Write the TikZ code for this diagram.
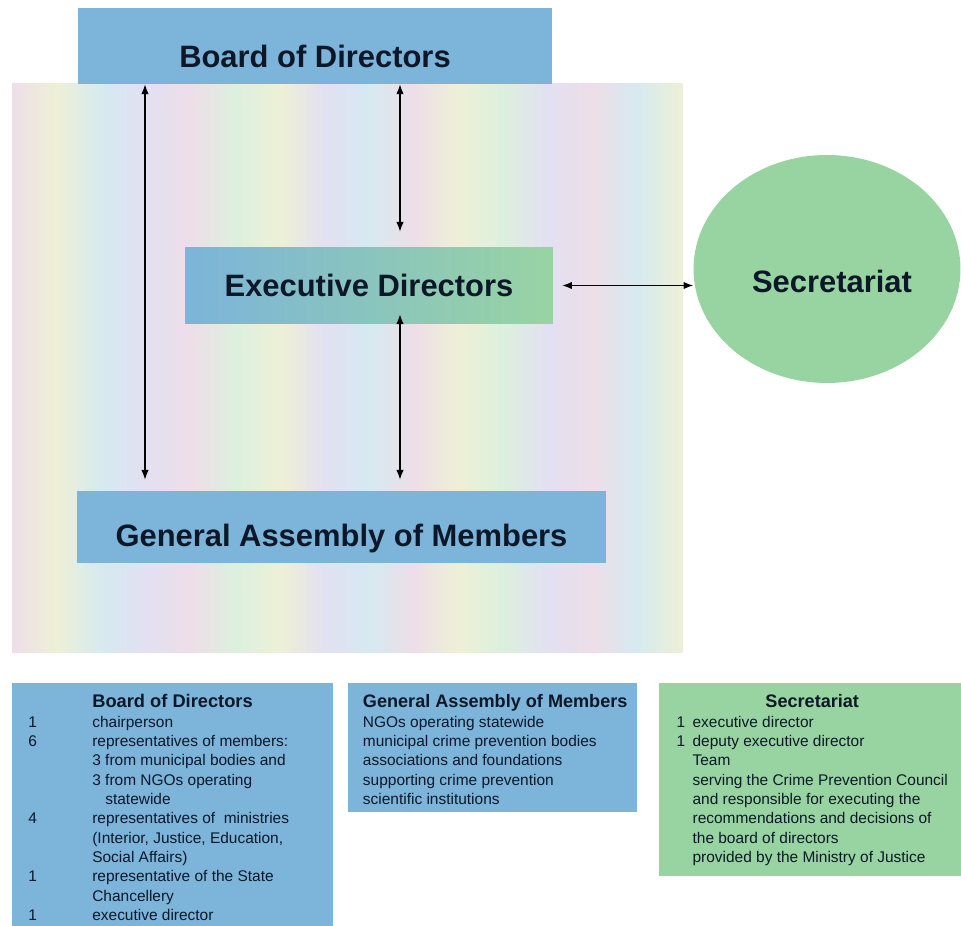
\documentclass[tikz,border=0pt]{standalone}
\usepackage{fontspec}
\setmainfont{Liberation Sans}
\usetikzlibrary{positioning, arrows.meta, shapes.geometric}
\definecolor{bluebox}{RGB}{124,180,218}
\definecolor{greenbox}{RGB}{152,212,162}
\definecolor{inktext}{RGB}{12,24,40}
\definecolor{pk}{RGB}{238,222,232}
\definecolor{yl}{RGB}{238,240,214}
\definecolor{cy}{RGB}{214,234,240}
\definecolor{lv}{RGB}{226,224,242}
\definecolor{gn}{RGB}{220,240,222}
\tikzset{>=latex}

\begin{document}
\begin{tikzpicture}[x=0.02cm, y=-0.02cm, X/.tip={Latex[length=5.5pt,width=4.2pt]},
    every node/.append style={text=inktext, inner sep=0pt},
    unit/.style={fill=bluebox, font=\fontsize{17.6}{20}\selectfont\bfseries},
    lowtext/.style={text height=#1, text depth=0pt},
    infobox/.style={fill=#1, anchor=north west},
    listtext/.style={anchor=north west, font=\fontsize{8.8}{11}\selectfont},
    link/.style={X-X, line width=0.7pt}]
    \useasboundingbox (0,0) rectangle (961,926);
    % pastel panel behind the chart
    \foreach \ca/\cb [count=\i from 0] in {pk/yl,yl/cy,cy/lv,lv/pk,pk/gn,gn/yl,yl/lv,lv/cy,cy/pk,pk/yl,yl/gn,gn/lv,lv/pk,pk/cy,cy/yl}
        \shade[left color=\ca, right color=\cb] (12+\i*44.67,84) rectangle (12.6+\i*44.67+44.67,652);
    \node[unit, lowtext=25pt, minimum width=9.48cm, minimum height=1.52cm] (board) at (315,46) {Board of Directors};
    \node[unit, left color=bluebox, right color=greenbox, minimum width=7.36cm, minimum height=1.54cm] (exec) at (369,285.5) {Executive Directors};
    \node[unit, lowtext=22.5pt, minimum width=10.58cm, minimum height=1.44cm] (ga) at (341.5,527) {General Assembly of Members};
    \node[ellipse, fill=greenbox, minimum width=5.34cm, minimum height=4.56cm] (sec) at (827,269) {};
    \node[font=\fontsize{17.6}{20}\selectfont\bfseries] (sectitle) at (832,281) {Secretariat};
    \coordinate (lft) at (145,0);
    \coordinate (mid) at (400,0);
    \draw[link, shorten >=0.22cm] (board.south -| lft) -- (ga.north -| lft);
    \draw[link, shorten >=0.3cm] (board.south -| mid) -- (exec.north -| mid);
    \draw[link, shorten <=-0.2cm, shorten >=0.22cm] (exec.south -| mid) -- (ga.north -| mid);
    \draw[link, shorten <=0.18cm] (exec.east) -- (exec.east -| sec.west);
    % legend boxes
    \node[infobox=bluebox, minimum width=6.42cm, minimum height=4.86cm] (boardbox) at (12,683) {};
    \node[infobox=bluebox, minimum width=5.78cm, minimum height=2.58cm, below right=0cm and 0.28cm of boardbox.north east] (gabox) {};
    \node[infobox=greenbox, minimum width=6.08cm, minimum height=3.86cm, below right=0cm and 0.42cm of gabox.north east] (secbox) {};
    \node[listtext] (boardlist) at ([xshift=0.32cm, yshift=-0.22cm]boardbox.north west) {%
        \begin{tabular}{@{}p{1.28cm}@{}l@{}}
        & {\fontsize{10.4}{12}\selectfont\bfseries Board of Directors}\\
        1 & chairperson\\
        6 & representatives of members:\\
          & 3 from municipal bodies and\\
          & 3 from NGOs operating\\
          & \hspace{0.26cm}statewide\\
        4 & representatives of\ \ ministries\\
          & (Interior, Justice, Education,\\
          & Social Affairs)\\
        1 & representative of the State\\
          & Chancellery\\
        1 & executive director
        \end{tabular}};
    \node[listtext] (galist) at ([xshift=0.3cm, yshift=-0.22cm]gabox.north west) {%
        \begin{tabular}{@{}l@{}}
        {\fontsize{10.3}{12}\selectfont\bfseries General Assembly of Members}\\
        NGOs operating statewide\\
        municipal crime prevention bodies\\
        associations and foundations\\
        supporting crime prevention\\
        scientific institutions
        \end{tabular}};
    \node[listtext] (seclist) at ([xshift=0.36cm, yshift=-0.22cm]secbox.north west) {%
        \begin{tabular}{@{}p{0.32cm}@{}l@{}}
        \multicolumn{2}{c}{\fontsize{10.3}{12}\selectfont\bfseries Secretariat}\\
        1 & executive director\\
        1 & deputy executive director\\
          & Team\\
          & serving the Crime Prevention Council\\
          & and responsible for executing the\\
          & recommendations and decisions of\\
          & the board of directors\\
          & provided by the Ministry of Justice
        \end{tabular}};
\end{tikzpicture}
\end{document}
